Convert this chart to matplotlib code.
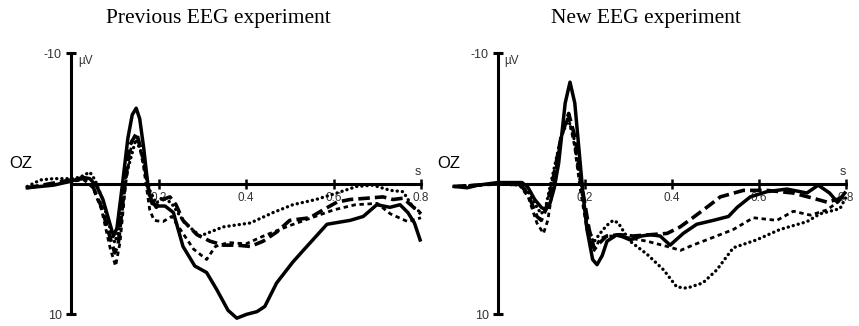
import numpy as np
import matplotlib.pyplot as plt

# ---- Previous EEG experiment (OZ) : (time s, amplitude uV) ----
prev_solid_t = [-0.1, -0.07, -0.04, 0.0, 0.027, 0.043, 0.059, 0.073, 0.085, 0.097, 0.105, 0.117, 0.13, 0.14, 0.149,
                0.157, 0.166, 0.176, 0.185, 0.2, 0.215, 0.234, 0.256, 0.283, 0.31, 0.333, 0.359, 0.379, 0.402, 0.425,
                0.443, 0.47, 0.507, 0.531, 0.585, 0.638, 0.668, 0.699, 0.729, 0.752, 0.77, 0.785, 0.798]
prev_solid_v = [0.3, 0.2, 0.1, -0.2, -0.5, -0.4, 0.2, 1.2, 2.6, 4.0, 3.4, 0.2, -3.5, -5.3, -5.8,
                -5.0, -2.8, 0.2, 1.5, 1.7, 1.7, 2.2, 4.8, 6.3, 6.8, 8.1, 9.7, 10.3, 10.0, 9.8,
                9.4, 7.6, 6.0, 5.1, 3.1, 2.8, 2.5, 1.6, 1.8, 1.6, 2.2, 3.0, 4.3]

prev_dash_t = [-0.1, -0.05, 0.0, 0.03, 0.05, 0.07, 0.09, 0.1, 0.108, 0.12, 0.135, 0.15, 0.165, 0.18, 0.195,
               0.21, 0.226, 0.24, 0.256, 0.288, 0.318, 0.348, 0.379, 0.41, 0.439, 0.47, 0.5, 0.546, 0.576,
               0.608, 0.638, 0.677, 0.713, 0.736, 0.759, 0.79, 0.8]
prev_dash_v = [0.3, 0.0, -0.3, -0.4, 0.2, 1.8, 4.2, 5.3, 4.6, 1.0, -3.0, -3.9, -2.0, 1.0, 1.8,
               1.2, 1.0, 1.6, 2.8, 3.9, 4.4, 4.7, 4.7, 4.8, 4.4, 3.7, 2.8, 2.6, 2.0,
               1.4, 1.2, 1.1, 1.0, 1.2, 1.1, 2.0, 2.3]

prev_dot_t = [-0.1, -0.07, -0.04, 0.0, 0.02, 0.043, 0.055, 0.07, 0.09, 0.1, 0.11, 0.125, 0.148, 0.16, 0.18,
              0.195, 0.21, 0.23, 0.26, 0.295, 0.348, 0.41, 0.462, 0.507, 0.56, 0.608, 0.653, 0.69, 0.73,
              0.759, 0.782, 0.8]
prev_dot_v = [0.2, -0.3, -0.4, -0.4, -0.5, -0.9, -0.3, 1.0, 3.5, 4.5, 3.5, -0.5, -3.4, -2.5, 0.5,
              1.5, 1.0, 1.5, 3.0, 4.0, 3.3, 3.0, 2.2, 1.6, 1.2, 0.7, 0.2, 0.1, 0.5,
              0.6, 1.8, 2.2]

prev_sdash_t = [-0.1, -0.05, 0.0, 0.03, 0.05, 0.07, 0.09, 0.102, 0.112, 0.125, 0.14, 0.152, 0.165, 0.18, 0.19,
                0.21, 0.23, 0.25, 0.28, 0.31, 0.33, 0.36, 0.4, 0.44, 0.5, 0.55, 0.6, 0.65, 0.7, 0.73,
                0.77, 0.8]
prev_sdash_v = [0.3, 0.1, -0.2, -0.3, 0.3, 2.0, 5.0, 6.3, 4.5, 0.0, -3.4, -3.6, -1.5, 2.0, 2.8,
                2.9, 2.5, 3.5, 5.0, 5.8, 4.8, 4.5, 4.6, 4.0, 3.2, 2.6, 2.0, 1.6, 1.5, 2.3,
                2.9, 2.6]

# ---- New EEG experiment (OZ) ----
new_solid_t = [-0.1, -0.07, -0.045, 0.0, 0.03, 0.056, 0.07, 0.085, 0.1, 0.11, 0.12, 0.13, 0.14, 0.155, 0.166,
               0.177, 0.187, 0.195, 0.205, 0.218, 0.228, 0.24, 0.251, 0.274, 0.29, 0.304, 0.33, 0.35, 0.373,
               0.396, 0.426, 0.457, 0.495, 0.53, 0.55, 0.58, 0.618, 0.664, 0.71, 0.736, 0.762, 0.78, 0.797]
new_solid_v = [0.2, 0.3, 0.1, -0.1, -0.1, -0.1, 0.3, 1.2, 1.8, 2.0, 1.5, 0.3, -1.6, -6.2, -7.8,
               -6.2, -2.5, 0.5, 3.5, 5.8, 6.2, 5.5, 4.4, 3.9, 4.1, 4.3, 4.0, 3.9, 4.0,
               4.7, 3.8, 3.1, 2.8, 2.5, 1.8, 1.0, 0.6, 0.4, 0.7, 0.1, 0.7, 1.4, 0.7]

new_dash_t = [-0.1, -0.05, 0.0, 0.05, 0.07, 0.09, 0.1, 0.11, 0.125, 0.145, 0.163, 0.178, 0.195, 0.21, 0.222,
              0.235, 0.25, 0.28, 0.31, 0.35, 0.389, 0.419, 0.448, 0.488, 0.511, 0.564, 0.618, 0.678, 0.724,
              0.756, 0.779, 0.8]
new_dash_v = [0.2, 0.1, 0.0, 0.0, 0.8, 2.5, 2.8, 2.0, 0.0, -3.5, -5.4, -3.5, 0.5, 3.5, 5.0,
              4.5, 4.0, 3.9, 4.0, 3.9, 3.8, 3.3, 2.6, 1.6, 1.0, 0.5, 0.5, 0.7, 1.1,
              1.4, 1.2, 0.9]

new_dot_t = [-0.1, -0.05, 0.0, 0.05, 0.07, 0.09, 0.1, 0.11, 0.125, 0.145, 0.162, 0.175, 0.19, 0.205, 0.22,
             0.235, 0.25, 0.265, 0.277, 0.29, 0.304, 0.343, 0.381, 0.411, 0.434, 0.471, 0.503, 0.541, 0.594,
             0.648, 0.71, 0.74, 0.786, 0.8]
new_dot_v = [0.2, 0.1, 0.0, 0.1, 0.6, 1.8, 2.3, 1.8, -0.5, -3.5, -5.0, -3.5, 0.0, 3.0, 4.5,
             3.8, 3.2, 2.8, 3.0, 3.7, 4.4, 5.4, 6.6, 7.9, 8.0, 7.6, 6.6, 4.9, 4.3,
             3.5, 2.9, 2.3, 1.9, 1.0]

new_sdash_t = [-0.1, -0.05, 0.0, 0.05, 0.07, 0.09, 0.105, 0.115, 0.128, 0.145, 0.162, 0.176, 0.19, 0.205, 0.22,
               0.235, 0.25, 0.28, 0.31, 0.343, 0.389, 0.42, 0.448, 0.495, 0.541, 0.587, 0.641, 0.679, 0.718,
               0.756, 0.793]
new_sdash_v = [0.2, 0.1, 0.0, 0.1, 1.0, 3.0, 3.8, 2.8, 0.0, -3.5, -5.2, -3.0, 0.5, 3.5, 5.2,
               4.2, 4.0, 4.0, 4.2, 4.4, 4.8, 5.1, 4.7, 4.1, 3.5, 2.6, 2.8, 2.1, 2.4,
               2.0, 1.1]

xticks = [0.2, 0.4, 0.6, 0.8]
xtick_labels = ['0.2', '0.4', '0.6', '0.8']
titles = ['Previous EEG experiment', 'New EEG experiment']

fig = plt.figure(figsize=(8.59, 3.26), dpi=100)
H = 326.0
W = 859.0


def draw_panel(ax, series):
    solid, dash, dot, sdash = series
    ax.plot(*dot, color='black', lw=2.4, linestyle=(0, (0.05, 1.5)), dash_capstyle='round', clip_on=False)
    ax.plot(*sdash, color='black', lw=2.0, linestyle=(0, (1.6, 1.3)), clip_on=False)
    ax.plot(*dash, color='black', lw=2.6, linestyle=(0, (3.2, 1.4)), clip_on=False)
    ax.plot(*solid, color='black', lw=2.5, clip_on=False)

    ax.set_xlim(-0.11, 0.82)
    ax.set_ylim(10.9, -11)
    for s in ['top', 'right']:
        ax.spines[s].set_visible(False)
    ax.spines['left'].set_position(('data', 0))
    ax.spines['bottom'].set_position(('data', 0))
    ax.spines['left'].set_bounds(-10, 10)
    ax.spines['bottom'].set_bounds(0, 0.8)
    ax.spines['left'].set_linewidth(2.2)
    ax.spines['bottom'].set_linewidth(2.2)
    ax.set_xticks(xticks)
    ax.set_xticklabels(xtick_labels)
    ax.set_yticks([-10, 10])
    ax.set_yticklabels(['-10', '10'])
    ax.tick_params(axis='x', direction='inout', length=7, width=1.8, pad=2.5,
                   labelsize=8.5, labelcolor='#333333')
    ax.tick_params(axis='y', direction='inout', length=7, width=2.2, pad=3,
                   labelsize=9, labelcolor='#333333')
    for lab in ax.get_xticklabels() + ax.get_yticklabels():
        lab.set_family('Liberation Sans')
    ax.text(0.016, -9.4, 'µV', fontsize=8.5, family='Liberation Sans', color='#333333',
            ha='left', va='center')
    ax.text(0.792, -0.45, 's', fontsize=9, family='Liberation Sans', color='#333333',
            ha='center', va='bottom')
    ax.patch.set_visible(False)


def place(x0_px, px_per_s):
    left = x0_px - 0.11 * px_per_s
    return [left / W, 0.0, 0.93 * px_per_s / W, 1 - 40.4 / H]


ax1 = fig.add_axes(place(71, 437.5))
draw_panel(ax1, [(prev_solid_t, prev_solid_v), (prev_dash_t, prev_dash_v),
                 (prev_dot_t, prev_dot_v), (prev_sdash_t, prev_sdash_v)])
ax2 = fig.add_axes(place(497.7, 435.5))
draw_panel(ax2, [(new_solid_t, new_solid_v), (new_dash_t, new_dash_v),
                 (new_dot_t, new_dot_v), (new_sdash_t, new_sdash_v)])

fig.text(20.5 / W, 1 - 163 / H, 'OZ', fontsize=12, family='Liberation Sans', ha='center', va='center')
fig.text(448.5 / W, 1 - 163 / H, 'OZ', fontsize=12, family='Liberation Sans', ha='center', va='center')
fig.text(218 / W, 1 - 23 / H, titles[0], fontsize=15.5, family='Liberation Serif', ha='center', va='baseline')
fig.text(646 / W, 1 - 23 / H, titles[1], fontsize=15.5, family='Liberation Serif', ha='center', va='baseline')

fig.savefig('out.png', dpi=100)
